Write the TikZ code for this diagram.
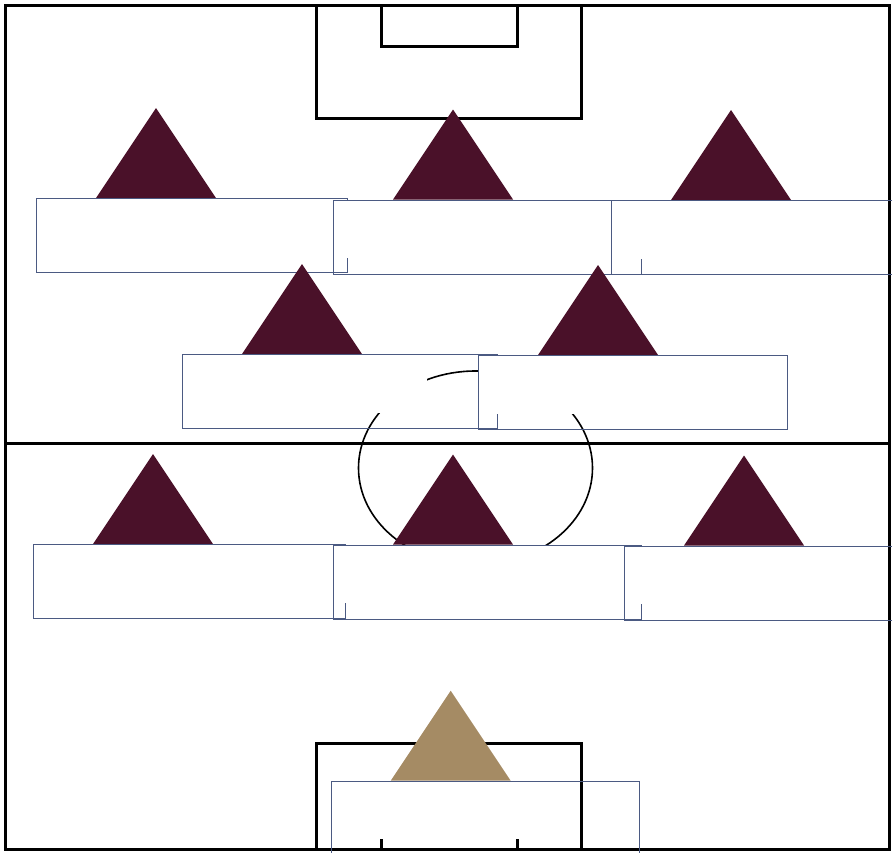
\documentclass[tikz,border=0pt]{standalone}
\usetikzlibrary{calc}
\definecolor{maroon}{HTML}{4A1129}
\definecolor{gold}{HTML}{A58B64}
\definecolor{boxline}{RGB}{75,90,130}
\tikzset{
  pitch/.style={line width=3pt, draw=black},
  centreline/.style={line width=1.6pt, draw=black},
  namebox/.style={draw=boxline, line width=0.9pt, rectangle, inner sep=0pt,
    minimum height=74pt, anchor=north west},
  namefill/.style={fill=white, rectangle, inner sep=0pt,
    minimum width=244pt, minimum height=58pt, anchor=north west},
}
\newcommand{\playerat}[5]{%
  \fill[#5] (#2+60,#3) -- (#2+120,#3-90) -- (#2+180,#3) -- cycle;
  \node[namefill] (#1f) at (#2+0.5,#3+0.5) {};
  \node[namebox, minimum width=#4pt] (#1) at (#2,#3) {};
}
\begin{document}
\begin{tikzpicture}[x=1pt,y=-1pt]
\useasboundingbox (0,0) rectangle (892,852);
% pitch
\draw[pitch] (5.5,5.5) rectangle (889.5,849.5);
\draw[pitch] (5.5,443.3) -- (889.5,443.3);
\draw[pitch] (316.7,5.5) -- (316.7,118.5) -- (581.7,118.5) -- (581.7,5.5);
\draw[pitch] (381,5.5) -- (381,46.7) -- (517.3,46.7) -- (517.3,5.5);
\draw[pitch] (316.7,849.5) -- (316.7,743.3) -- (581.7,743.3) -- (581.7,849.5);
\draw[pitch] (381,839) -- (381,849.5);
\draw[pitch] (517.3,839) -- (517.3,849.5);
\draw[centreline] (475.5,468) ellipse [x radius=117, y radius=97];
% players
\playerat{pa}{36}{198}{311}{maroon}
\playerat{pb}{333}{199.5}{308}{maroon}
\playerat{pc}{611}{200}{308}{maroon}
\playerat{pd}{182}{354}{315}{maroon}
\playerat{pe}{478}{355}{309}{maroon}
\playerat{pf}{33}{544}{312}{maroon}
\playerat{pg}{333}{544.5}{308}{maroon}
\playerat{ph}{624}{545.5}{308}{maroon}
\playerat{pk}{330.7}{780.7}{308}{gold}
\end{tikzpicture}
\end{document}
